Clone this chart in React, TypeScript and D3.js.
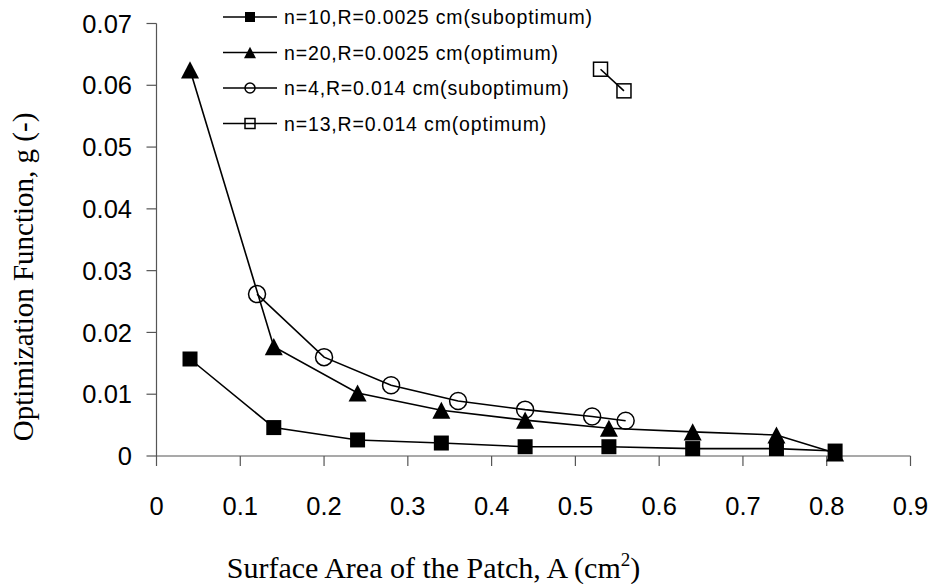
import React from 'react';
import * as d3 from 'd3';

// filled squares
const s1x = [0.04, 0.14, 0.24, 0.34, 0.44, 0.54, 0.64, 0.74, 0.81];
const s1y = [0.0157, 0.0046, 0.0026, 0.0021, 0.0015, 0.0015, 0.0012, 0.0012, 0.0008];
// filled triangles
const s2x = [0.04, 0.14, 0.24, 0.34, 0.44, 0.54, 0.64, 0.74, 0.81];
const s2y = [0.0625, 0.0177, 0.0102, 0.0074, 0.0058, 0.0045, 0.0039, 0.0034, 0.0005];
// open circles
const s3x = [0.12, 0.2, 0.28, 0.36, 0.44, 0.52, 0.56];
const s3y = [0.0262, 0.016, 0.01145, 0.0089, 0.0075, 0.0064, 0.0057];
// open squares
const s4x = [0.53, 0.558];
const s4y = [0.0626, 0.0591];

const legendLabels = [
  'n=10,R=0.0025 cm(suboptimum)',
  'n=20,R=0.0025 cm(optimum)',
  'n=4,R=0.014 cm(suboptimum)',
  'n=13,R=0.014 cm(optimum)',
];
const xTicks = [0, 0.1, 0.2, 0.3, 0.4, 0.5, 0.6, 0.7, 0.8, 0.9];
const yTicks = [0, 0.01, 0.02, 0.03, 0.04, 0.05, 0.06, 0.07];

const W = 936;
const H = 584;

type Kind = 'fsq' | 'tri' | 'circ' | 'osq';

function Marker({ kind, x, y, s }: { kind: Kind; x: number; y: number; s: number }) {
  if (kind === 'fsq') return <rect x={x - s / 2} y={y - s / 2} width={s} height={s} fill="#000" />;
  if (kind === 'osq')
    return <rect x={x - s / 2} y={y - s / 2} width={s} height={s} fill="none" stroke="#000" strokeWidth={1.5} />;
  if (kind === 'circ') return <circle cx={x} cy={y} r={s / 2} fill="none" stroke="#000" strokeWidth={1.5} />;
  const h = s * 0.95;
  return <path d={`M${x},${y - h / 2}L${x + s / 2},${y + h / 2}L${x - s / 2},${y + h / 2}Z`} fill="#000" />;
}

export default function App() {
  const x = d3.scaleLinear().domain([0, 0.9]).range([156.5, 910.5]);
  const y = d3.scaleLinear().domain([0, 0.07]).range([456, 23.5]);
  const line = d3
    .line<[number, number]>()
    .x((d) => x(d[0]))
    .y((d) => y(d[1]));

  const series: { xs: number[]; ys: number[]; kind: Kind; size: number; lsize: number }[] = [
    { xs: s1x, ys: s1y, kind: 'fsq', size: 15, lsize: 10 },
    { xs: s2x, ys: s2y, kind: 'tri', size: 18, lsize: 12 },
    { xs: s3x, ys: s3y, kind: 'circ', size: 17, lsize: 10 },
    { xs: s4x, ys: s4y, kind: 'osq', size: 14, lsize: 10 },
  ];

  const legendY = d3.scaleLinear().domain([0, 3]).range([17, 123.5]);
  const axisColor = '#555';

  return (
    <svg width={W} height={H} style={{ position: 'absolute', left: 0, top: 0 }}>
      <rect width={W} height={H} fill="#fff" />
      {/* axes */}
      <line x1={x(0)} x2={x(0)} y1={y(0.07)} y2={y(0)} stroke={axisColor} strokeWidth={1.2} />
      <line x1={x(0)} x2={x(0.9)} y1={y(0)} y2={y(0)} stroke={axisColor} strokeWidth={1.2} />
      {yTicks.map((t) => (
        <g key={'y' + t}>
          <line x1={x(0) - 10} x2={x(0)} y1={y(t)} y2={y(t)} stroke={axisColor} strokeWidth={1.2} />
          <text
            x={132}
            y={y(t)}
            dy="0.36em"
            textAnchor="end"
            fontFamily="'Liberation Sans', Arial, sans-serif"
            fontSize={25.5}
          >
            {t === 0 ? '0' : t.toFixed(2)}
          </text>
        </g>
      ))}
      {xTicks.map((t) => (
        <g key={'x' + t}>
          <line x1={x(t)} x2={x(t)} y1={y(0)} y2={y(0) + 10} stroke={axisColor} strokeWidth={1.2} />
          <text
            x={x(t)}
            y={515}
            textAnchor="middle"
            fontFamily="'Liberation Sans', Arial, sans-serif"
            fontSize={25.5}
          >
            {t === 0 ? '0' : t.toFixed(1)}
          </text>
        </g>
      ))}
      {/* axis titles */}
      <text
        x={433.5}
        y={578}
        textAnchor="middle"
        fontFamily="'Liberation Serif', 'Times New Roman', serif"
        fontSize={30}
      >
        Surface Area of the Patch, A (cm
        <tspan dy={-12} fontSize={19}>
          2
        </tspan>
        <tspan dy={12}>)</tspan>
      </text>
      <text
        transform="translate(33,277) rotate(-90)"
        textAnchor="middle"
        fontFamily="'Liberation Serif', 'Times New Roman', serif"
        fontSize={29}
      >
        Optimization Function, g (-)
      </text>
      {/* series */}
      {series.map((s, i) => {
        const pts = s.xs.map((v, j) => [v, s.ys[j]] as [number, number]);
        return (
          <g key={'s' + i}>
            <path d={line(pts) || ''} fill="none" stroke="#000" strokeWidth={1.6} />
            {pts.map((p, j) => (
              <Marker key={j} kind={s.kind} x={x(p[0])} y={y(p[1])} s={s.size} />
            ))}
          </g>
        );
      })}
      {/* legend */}
      {series.map((s, i) => (
        <g key={'l' + i}>
          <line x1={223} x2={277} y1={legendY(i)} y2={legendY(i)} stroke="#000" strokeWidth={1.6} />
          <Marker kind={s.kind} x={250} y={legendY(i)} s={s.lsize} />
          <text
            x={284}
            y={legendY(i)}
            dy="0.36em"
            fontFamily="'Liberation Sans', Arial, sans-serif"
            fontSize={19.5}
            letterSpacing={0.85}
          >
            {legendLabels[i]}
          </text>
        </g>
      ))}
    </svg>
  );
}
